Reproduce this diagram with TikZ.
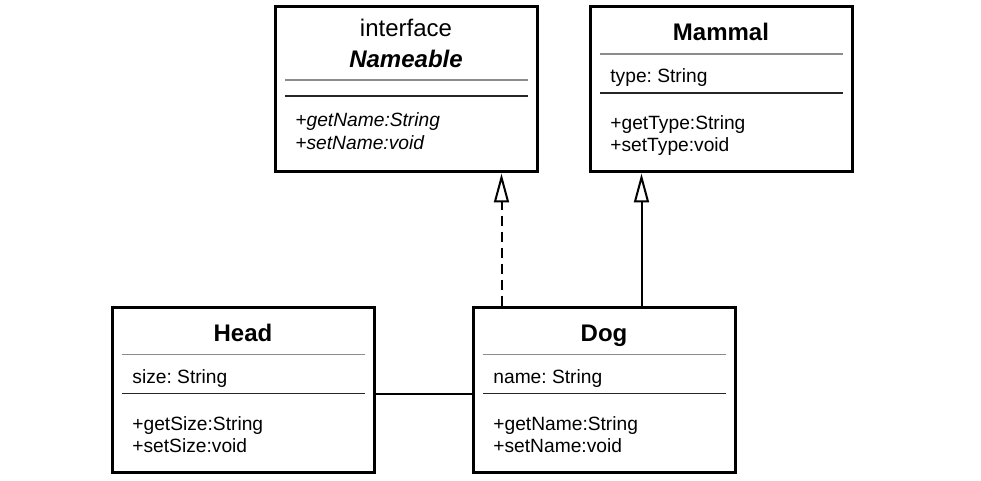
\documentclass[tikz,border=0pt]{standalone}
\usepackage{fontspec}
\setmainfont{Liberation Sans}
\usetikzlibrary{arrows.meta, positioning, calc}
\frenchspacing
\tikzset{
  classbox/.style={rectangle, draw, line width=1.5pt, minimum width=131pt, minimum height=82.5pt, inner sep=0pt},
  classtitle/.style={font=\fontsize{12}{14}\selectfont\bfseries, anchor=base, inner sep=0pt},
  stereo/.style={font=\fontsize{12}{14}\selectfont, anchor=base, inner sep=0pt},
  member/.style={font=\fontsize{9.6}{11}\selectfont, anchor=base west, inner sep=0pt},
  softrule/.style={draw=black!45, line width=0.75pt},
  hardrule/.style={draw=black!85, line width=0.75pt},
  inherit/.style={-{Triangle[open, length=14.5pt, width=7.5pt]}, line width=1pt},
  realize/.style={inherit, dash pattern=on 5pt off 3pt},
  assoc/.style={line width=1pt},
}

\begin{document}
\begin{tikzpicture}[x=0.5pt, y=-0.5pt]
  \useasboundingbox (0,0) rectangle (981,481);

  % Interface (top left)
  \node[classbox] (nameable) at (406, 89.5) {};
  \node[stereo] (nameable-stereo) at (406, 37) {interface};
  \node[classtitle, font=\fontsize{12}{14}\selectfont\bfseries\itshape] (nameable-title) at (406, 68) {Nameable};
  \draw[softrule] (285, 80) -- (528, 80);
  \draw[hardrule] (285, 96) -- (528, 96);
  \node[member, font=\fontsize{9.6}{11}\selectfont\itshape] (nameable-get) at (295, 127) {+getName:String};
  \node[member, font=\fontsize{9.6}{11}\selectfont\itshape] (nameable-set) at (295, 150) {+setName:void};

  % Classes
  \foreach \nm/\x/\y/\cls/\attr/\mget/\mset in {
      mammal/590/7/Mammal/type: String/+getType:String/+setType:void,
      head/112/307.5/Head/size: String/+getSize:String/+setSize:void,
      dog/473/307.5/Dog/name: String/+getName:String/+setName:void} {
    \node[classbox] (\nm) at ({\x+131}, {\y+82.5}) {};
    \node[classtitle] (\nm-title) at ({\x+131}, {\y+34}) {\cls};
    \draw[softrule] ({\x+10}, {\y+47}) -- ({\x+253}, {\y+47});
    \node[member] (\nm-attr) at ({\x+20}, {\y+76}) {\attr};
    \draw[hardrule] ({\x+10}, {\y+86}) -- ({\x+253}, {\y+86});
    \node[member] (\nm-get) at ({\x+20}, {\y+123}) {\mget};
    \node[member] (\nm-set) at ({\x+20}, {\y+145}) {\mset};
  }

  % Relations
  \draw[realize] ([xshift=15pt]dog.north west) -- ([xshift=15pt]dog.north west |- nameable.south);
  \draw[inherit] ([xshift=85pt]dog.north west) -- ([xshift=85pt]dog.north west |- mammal.south);
  \draw[assoc] ([yshift=-2pt]head.east) -- ([yshift=-2pt]head.east -| dog.west);
\end{tikzpicture}
\end{document}
